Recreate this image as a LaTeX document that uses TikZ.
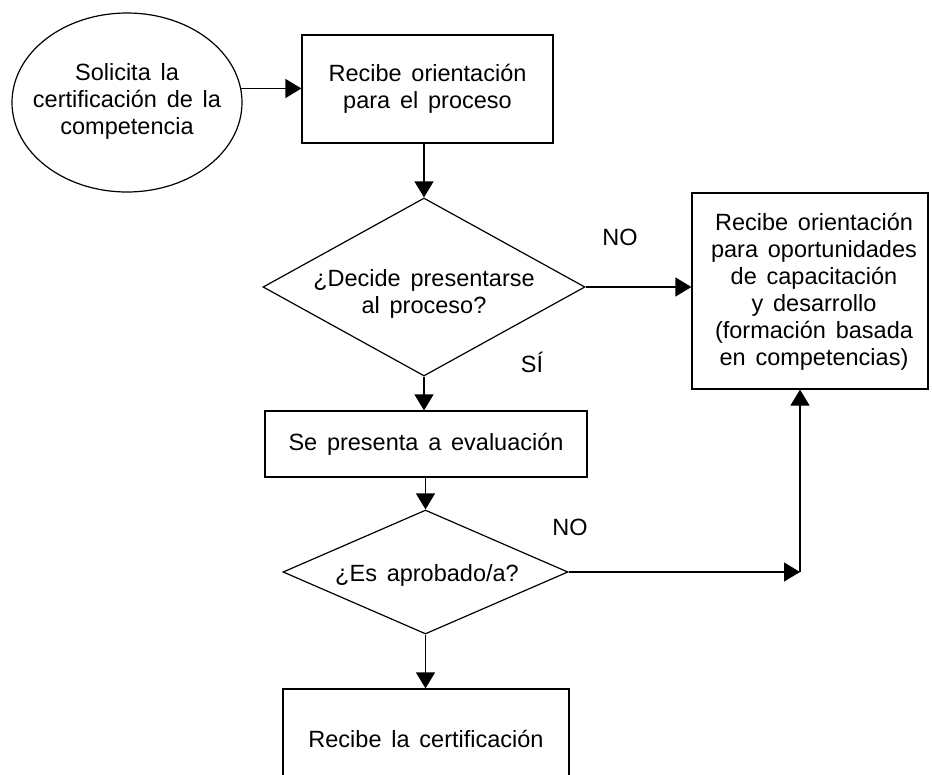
\documentclass[tikz,border=0pt]{standalone}
\usepackage{fontspec}
\setmainfont{Liberation Sans}[WordSpace=1.5]
\usetikzlibrary{shapes.geometric,arrows.meta}
\begin{document}
\begin{tikzpicture}[x=1pt,y=-1pt,
  line width=1.2pt,
  txt/.style={font=\fontsize{23.5}{27}\selectfont, align=center, inner sep=0pt},
  boxnode/.style={draw, rectangle, inner sep=0pt},
  decnode/.style={draw, diamond, inner sep=0pt},
  arr/.style={-{Triangle[length=16pt,width=19pt]}}]
\useasboundingbox (0,0) rectangle (932,774);
\clip (0,0) rectangle (932,774);
% start
\node[draw, ellipse, minimum width=230pt, minimum height=179pt, inner sep=0pt] (sol) at (127,102.5) {};
\node[txt] (solt) at (127,101) {Solicita la\\certificación de la\\competencia};
% box 1
\node[boxnode, txt, minimum width=251pt, minimum height=108pt] (b1) at (427.5,89) {Recibe orientación\\para el proceso};
% decision 1
\node[decnode, minimum width=322pt, minimum height=178pt] (d1) at (424,287) {};
\node[txt] (d1t) at (424,294) {¿Decide presentarse\\al proceso?};
% box 2
\node[boxnode, minimum width=236pt, minimum height=196pt] (b2) at (810,291) {};
\node[txt] (b2t) at (814,292) {Recibe orientación\\para oportunidades\\de capacitación\\y desarrollo\\(formación basada\\en competencias)};
% box 3
\node[boxnode, txt, minimum width=322pt, minimum height=66pt] (b3) at (426,444) {Se presenta a evaluación};
% decision 2
\node[decnode, minimum width=285pt, minimum height=124pt] (d2) at (425.5,572) {};
\node[txt] (d2t) at (427,575) {¿Es aprobado/a?};
% box 4 (cut at bottom)
\node[boxnode, txt, minimum width=286pt, minimum height=100pt] (b4) at (426,739) {Recibe la certificación};
% labels
\node[txt] (no1) at (620,237) {NO};
\node[txt] (si1) at (532,362) {SÍ};
\node[txt] (no2) at (570,527) {NO};
% connectors
\coordinate (c1) at (800,570);
\draw[arr] (sol.7) -- (sol.7 -| b1.west);
\draw[arr] (b1.south -| d1.north) -- (d1.north);
\draw[arr] (d1.east) -- (d1.east -| b2.west);
\draw[arr] (d1.south) -- (d1.south |- b3.north);
\draw[arr] (b3.south -| d2.north) -- (d2.north);
\draw[arr] (d2.east) -- (d2.east -| c1);
\draw[arr] (d2.east -| c1) -- (c1 |- b2.south);
\draw[arr] (d2.south) -- (d2.south |- b4.north);
\end{tikzpicture}
\end{document}
